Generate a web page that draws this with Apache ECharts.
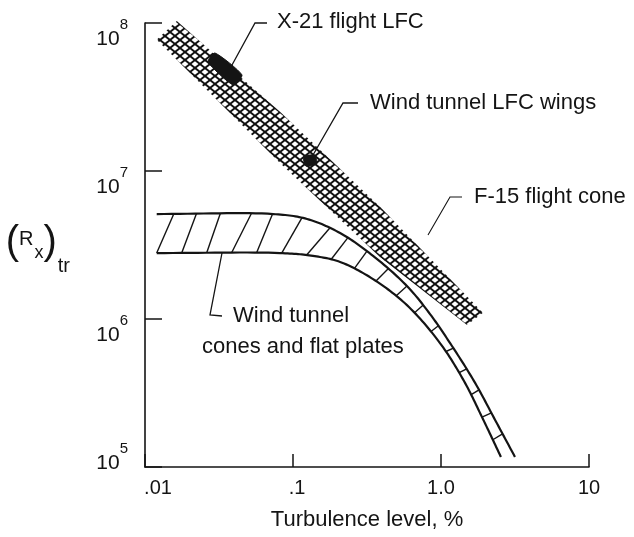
<!DOCTYPE html>
<html><head><meta charset="utf-8">
<script src="https://cdn.jsdelivr.net/npm/echarts@6/dist/echarts.min.js"></script>
<style>html,body{margin:0;padding:0;background:#fff}#c{width:634px;height:537px}</style>
</head><body><div id="c"></div>
<script>
// ---- data ----
const xTickValues = [0.01, 0.1, 1, 10];
const xTickLabels = ['.01', '.1', '1.0', '10'];
const yTickValues = [1e5, 1e6, 1e7, 1e8];
const yTickExponents = ['5', '6', '7', '8'];

// crosshatched band (flight / LFC region)
const lfcBandUpper = [[0.0164, 1.03e8], [0.082, 2.5e7], [0.39, 5.7e6], [1.92, 1.1e6]];
const lfcBandLower = [[0.012, 7.7e7], [0.082, 1.13e7], [0.39, 2.6e6], [1.5, 9.1e5]];
// X-21 flight LFC (solid)
const x21Flight = [[0.0297, 6.27e7], [0.0452, 4.46e7], [0.0394, 3.81e7], [0.0267, 5.45e7]];
// Wind tunnel LFC wings (solid)
const windTunnelWings = [[0.118, 1.25e7], [0.14, 1.28e7], [0.145, 1.12e7], [0.122, 1.08e7]];
// Wind tunnel cones and flat plates (hatched band)
const conesUpper = [[0.012, 5.12e6], [0.0733, 5.12e6], [0.1245, 4.74e6], [0.208, 3.81e6], [0.3475, 2.67e6],
  [0.589, 1.67e6], [0.843, 1.08e6], [1.186, 6.57e5], [1.70, 3.70e5], [2.32, 2.08e5], [3.16, 1.17e5]];
const conesLower = [[0.012, 2.79e6], [0.0817, 2.79e6], [0.1365, 2.67e6], [0.208, 2.43e6], [0.3475, 1.86e6],
  [0.589, 1.24e6], [0.984, 6.88e5], [1.43, 3.81e5], [1.92, 2.11e5], [2.54, 1.17e5]];

// ---- styling / helpers ----
const FONT = '"Liberation Sans", Arial, sans-serif';
const INK = '#141414';

function tickIndex(values, v) {
  let best = 0, bd = Infinity;
  values.forEach((t, i) => { const d = Math.abs(Math.log10(t) - Math.log10(v)); if (d < bd) { bd = d; best = i; } });
  return best;
}
function toPx(api, pts) { return pts.map(p => api.coord(p)); }
function crDensify(P, n) {
  if (P.length < 3) return P.slice();
  const m = P.length;
  const ext = [[2 * P[0][0] - P[1][0], 2 * P[0][1] - P[1][1]]].concat(P,
    [[2 * P[m - 1][0] - P[m - 2][0], 2 * P[m - 1][1] - P[m - 2][1]]]);
  const out = [];
  const d = (a, b) => Math.max(1e-4, Math.pow(Math.hypot(b[0] - a[0], b[1] - a[1]), 0.5));
  for (let i = 1; i < ext.length - 2; i++) {
    const p0 = ext[i - 1], p1 = ext[i], p2 = ext[i + 1], p3 = ext[i + 2];
    const t0 = 0, t1 = t0 + d(p0, p1), t2 = t1 + d(p1, p2), t3 = t2 + d(p2, p3);
    for (let k = 0; k < n; k++) {
      const t = t1 + (t2 - t1) * k / n;
      const lerp = (a, b, ta, tb) => [(tb - t) / (tb - ta) * a[0] + (t - ta) / (tb - ta) * b[0],
        (tb - t) / (tb - ta) * a[1] + (t - ta) / (tb - ta) * b[1]];
      const A1 = lerp(p0, p1, t0, t1), A2 = lerp(p1, p2, t1, t2), A3 = lerp(p2, p3, t2, t3);
      const B1 = lerp(A1, A2, t0, t2), B2 = lerp(A2, A3, t1, t3);
      out.push(lerp(B1, B2, t1, t2));
    }
  }
  out.push(P[m - 1].slice());
  return out;
}
function arcLengths(pts) {
  const a = [0];
  for (let i = 1; i < pts.length; i++) a.push(a[i - 1] + Math.hypot(pts[i][0] - pts[i - 1][0], pts[i][1] - pts[i - 1][1]));
  return a;
}
function pointAt(pts, arcs, s) {
  if (s <= 0) return pts[0].slice();
  for (let i = 1; i < pts.length; i++) {
    if (arcs[i] >= s) {
      const f = (s - arcs[i - 1]) / Math.max(1e-6, arcs[i] - arcs[i - 1]);
      return [pts[i - 1][0] + f * (pts[i][0] - pts[i - 1][0]), pts[i - 1][1] + f * (pts[i][1] - pts[i - 1][1])];
    }
  }
  return pts[pts.length - 1].slice();
}
function hatchLines(U, L, spacing) {
  const la = arcLengths(L), ua = arcLengths(U);
  const total = la[la.length - 1];
  const lines = [];
  const slant = s => s < 130 ? 17 : (s < 190 ? 17 * (190 - s) / 60 : 0);
  for (let s = 0; s <= total + 0.01; s += spacing) {
    const P = pointAt(L, la, s);
    let bj = 0, bd = Infinity;
    for (let j = 0; j < U.length; j++) {
      const dd = (U[j][0] - P[0]) ** 2 + (U[j][1] - P[1]) ** 2;
      if (dd < bd) { bd = dd; bj = j; }
    }
    const su = Math.min(ua[ua.length - 1], ua[bj] + slant(s));
    lines.push([P, pointAt(U, ua, su)]);
  }
  return lines;
}

// crosshatch mesh tile
const TW = 10, TH = 8;
const meshTile = document.createElement('canvas');
meshTile.width = TW; meshTile.height = TH;
(function () {
  const g = meshTile.getContext('2d');
  g.strokeStyle = '#111'; g.lineWidth = 1.9;
  for (const dx of [-TW, 0, TW]) for (const dy of [-TH, 0, TH]) {
    g.beginPath(); g.moveTo(dx, dy); g.lineTo(dx + TW, dy + TH); g.stroke();
    g.beginPath(); g.moveTo(dx, dy + TH); g.lineTo(dx + TW, dy); g.stroke();
  }
})();

const chart = echarts.init(document.getElementById('c'), null, { renderer: 'canvas' });
const dummy = [[0.1, 1e6]];

const option = {
  backgroundColor: '#fff',
  animation: false,
  grid: { left: 145, right: 45, top: 23, bottom: 70, outerBoundsMode: 'none', containLabel: false },
  xAxis: {
    type: 'log', logBase: 10, min: 0.01, max: 10,
    axisLine: { show: true, lineStyle: { color: INK, width: 1.6 } },
    axisTick: { show: true, inside: true, length: 13, lineStyle: { color: INK, width: 1.5 } },
    minorTick: { show: false }, splitLine: { show: false },
    axisLabel: {
      show: true, margin: 11, color: INK, fontFamily: FONT, fontSize: 20,
      showMinLabel: true, showMaxLabel: true,
      formatter: v => {
        const i = tickIndex(xTickValues, v);
        return i === 0 ? '{first|' + xTickLabels[i] + '}' : (i === 1 ? '{second|' + xTickLabels[i] + '}' : xTickLabels[i]);
      },
      rich: {
        first: { fontSize: 20, fontFamily: FONT, color: INK, padding: [0, 0, 0, 26] },
        second: { fontSize: 20, fontFamily: FONT, color: INK, padding: [0, 0, 0, 8] }
      }
    },
    name: 'Turbulence level, %', nameLocation: 'middle', nameGap: 42,
    nameTextStyle: { color: INK, fontFamily: FONT, fontSize: 22 }
  },
  yAxis: {
    type: 'log', logBase: 10, min: 1e5, max: 1e8,
    axisLine: { show: true, lineStyle: { color: INK, width: 1.6 } },
    axisTick: { show: true, inside: true, length: 17, lineStyle: { color: INK, width: 1.5 } },
    minorTick: { show: false }, splitLine: { show: false },
    axisLabel: {
      show: true, margin: 17, color: INK, fontFamily: FONT,
      showMinLabel: true, showMaxLabel: true,
      formatter: v => {
        const i = tickIndex(yTickValues, v);
        const core = '{b|10}{s|' + yTickExponents[i] + '}';
        return i === 0 ? core + '\n{g| }' : '{g| }\n' + core;
      },
      rich: {
        b: { fontSize: 21, fontFamily: FONT, color: INK, padding: [12, 0, 0, 0] },
        s: { fontSize: 15, fontFamily: FONT, color: INK, padding: [0, 0, 16, 0] },
        g: { fontSize: 10, lineHeight: 20 }
      }
    },
    name: '{p|(}{r|R}{x|x}{p|)}{t|tr}', nameLocation: 'middle', nameRotate: 0, nameGap: 75,
    nameTextStyle: {
      color: INK, fontFamily: FONT,
      rich: {
        p: { fontSize: 40, fontFamily: FONT, color: INK, padding: [0, 0, 4, 0] },
        r: { fontSize: 20, fontFamily: FONT, color: INK, padding: [0, 0, 11, 0] },
        x: { fontSize: 18, fontFamily: FONT, color: INK, padding: [16, 0, 0, 1] },
        t: { fontSize: 20, fontFamily: FONT, color: INK, padding: [42, 0, 0, 1] }
      }
    }
  },
  series: [
    {
      type: 'custom', name: 'LFC band', coordinateSystem: 'cartesian2d', clip: false, silent: true,
      data: dummy, encode: { x: 0, y: 1 },
      renderItem: (params, api) => {
        const up = toPx(api, lfcBandUpper), lo = toPx(api, lfcBandLower);
        return { type: 'polygon', shape: { points: up.concat(lo.slice().reverse()) },
          style: { fill: { image: meshTile, repeat: 'repeat' }, stroke: null } };
      }
    },
    {
      type: 'custom', name: 'X-21 flight LFC', coordinateSystem: 'cartesian2d', clip: false, silent: true,
      data: dummy, encode: { x: 0, y: 1 },
      renderItem: (params, api) => ({ type: 'polygon', shape: { points: toPx(api, x21Flight), smooth: 0.2 },
        style: { fill: INK, stroke: INK, lineWidth: 1 } })
    },
    {
      type: 'custom', name: 'Wind tunnel LFC wings', coordinateSystem: 'cartesian2d', clip: false, silent: true,
      data: dummy, encode: { x: 0, y: 1 },
      renderItem: (params, api) => ({ type: 'polygon', shape: { points: toPx(api, windTunnelWings), smooth: 0.2 },
        style: { fill: INK, stroke: INK, lineWidth: 1 } })
    },
    {
      type: 'custom', name: 'Wind tunnel cones and flat plates', coordinateSystem: 'cartesian2d', clip: false, silent: true,
      data: dummy, encode: { x: 0, y: 1 },
      renderItem: (params, api) => {
        const U = crDensify(toPx(api, conesUpper), 16);
        const L = crDensify(toPx(api, conesLower), 16);
        const children = [
          { type: 'polyline', shape: { points: U }, style: { stroke: INK, lineWidth: 2.2, fill: null } },
          { type: 'polyline', shape: { points: L }, style: { stroke: INK, lineWidth: 2.2, fill: null } }
        ];
        hatchLines(U, L, 25).forEach(([P, Q]) => children.push({
          type: 'line', shape: { x1: P[0], y1: P[1], x2: Q[0], y2: Q[1] }, style: { stroke: INK, lineWidth: 1.4 }
        }));
        return { type: 'group', children };
      }
    }
  ],
  graphic: [
    { type: 'polyline', silent: true, shape: { points: [[232, 65], [255, 23], [267, 23]] }, style: { stroke: INK, lineWidth: 1.3, fill: null } },
    { type: 'text', silent: true, x: 277, y: 22, style: { text: 'X-21 flight LFC', font: '22px ' + FONT, fill: INK, verticalAlign: 'middle' } },
    { type: 'polyline', silent: true, shape: { points: [[313, 155], [343, 103], [358, 103]] }, style: { stroke: INK, lineWidth: 1.3, fill: null } },
    { type: 'text', silent: true, x: 370, y: 103, style: { text: 'Wind tunnel LFC wings', font: '22px ' + FONT, fill: INK, verticalAlign: 'middle' } },
    { type: 'polyline', silent: true, shape: { points: [[428, 235], [450, 197], [462, 197]] }, style: { stroke: INK, lineWidth: 1.1, fill: null } },
    { type: 'text', silent: true, x: 474, y: 197, style: { text: 'F-15 flight cone', font: '22px ' + FONT, fill: INK, verticalAlign: 'middle' } },
    { type: 'polyline', silent: true, shape: { points: [[222, 253], [210, 315], [222, 316]] }, style: { stroke: INK, lineWidth: 1.3, fill: null } },
    { type: 'text', silent: true, x: 233, y: 316, style: { text: 'Wind tunnel', font: '22px ' + FONT, fill: INK, verticalAlign: 'middle' } },
    { type: 'text', silent: true, x: 202, y: 347, style: { text: 'cones and flat plates', font: '22px ' + FONT, fill: INK, verticalAlign: 'middle' } }
  ]
};
chart.setOption(option);
</script>
</body></html>
